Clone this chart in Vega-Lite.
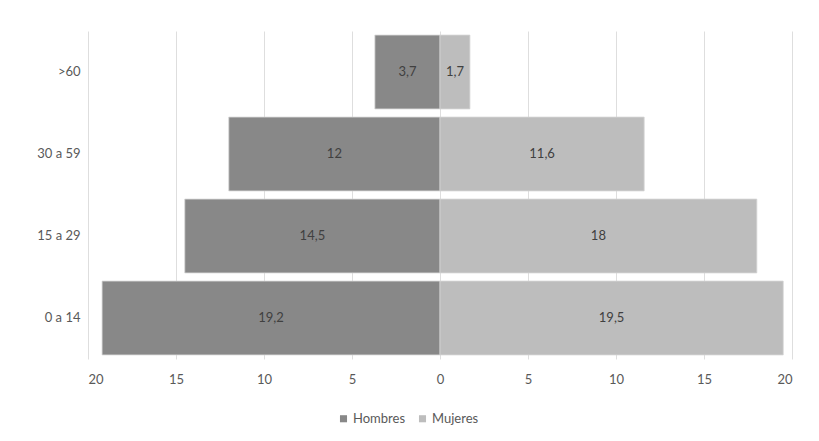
{
  "$schema": "https://vega.github.io/schema/vega-lite/v6.json",
  "width": 704,
  "height": 328,
  "autosize": {"type": "none"},
  "padding": {"left": 88, "top": 31, "right": 27, "bottom": 82},
  "background": "white",
  "config": {
    "view": {"stroke": null},
    "font": "Lato",
    "locale": {
      "number": {"decimal": ",", "thousands": ".", "grouping": [3], "currency": ["", " €"], "minus": ""}
    }
  },
  "data": {
    "values": [
      {"grupo": ">60", "sexo": "Hombres", "pct": -3.7},
      {"grupo": ">60", "sexo": "Mujeres", "pct": 1.7},
      {"grupo": "30 a 59", "sexo": "Hombres", "pct": -12},
      {"grupo": "30 a 59", "sexo": "Mujeres", "pct": 11.6},
      {"grupo": "15 a 29", "sexo": "Hombres", "pct": -14.5},
      {"grupo": "15 a 29", "sexo": "Mujeres", "pct": 18},
      {"grupo": "0 a 14", "sexo": "Hombres", "pct": -19.2},
      {"grupo": "0 a 14", "sexo": "Mujeres", "pct": 19.5}
    ]
  },
  "encoding": {
    "y": {
      "field": "grupo",
      "type": "nominal",
      "sort": [">60", "30 a 59", "15 a 29", "0 a 14"],
      "scale": {"paddingInner": 0.1, "paddingOuter": 0.05},
      "axis": {
        "title": null,
        "domain": false,
        "ticks": false,
        "labelPadding": 8,
        "labelFontSize": 13,
        "labelColor": "#595959"
      }
    }
  },
  "layer": [
    {
      "mark": {"type": "bar", "stroke": "#d4d4d4", "strokeWidth": 0.8},
      "encoding": {
        "x": {
          "field": "pct",
          "type": "quantitative",
          "stack": null,
          "scale": {"domain": [-20, 20], "nice": false},
          "axis": {
            "title": null,
            "values": [-20, -15, -10, -5, 0, 5, 10, 15, 20],
            "labelExpr": "format(abs(datum.value), 'd')",
            "domain": false,
            "ticks": false,
            "grid": true,
            "gridColor": "#dedede",
            "labelPadding": 14,
            "labelFontSize": 13,
            "labelColor": "#595959"
          }
        },
        "color": {
          "field": "sexo",
          "type": "nominal",
          "scale": {"domain": ["Hombres", "Mujeres"], "range": ["#888888", "#bdbdbd"]},
          "legend": {
            "title": null,
            "orient": "none",
            "direction": "horizontal",
            "legendX": 249,
            "legendY": 381,
            "symbolType": "square",
            "symbolSize": 50,
            "symbolStrokeWidth": 0,
            "labelFontSize": 13,
            "labelColor": "#595959",
            "columnPadding": 10,
            "labelOffset": 3
          }
        }
      }
    },
    {
      "mark": {"type": "text", "fontSize": 13, "color": "#404040"},
      "encoding": {
        "x": {
          "field": "pct",
          "type": "quantitative",
          "scale": {"domain": [-40, 40], "nice": false},
          "axis": null
        },
        "text": {"field": "pct", "type": "quantitative", "format": "~g"}
      }
    }
  ],
  "resolve": {"scale": {"x": "independent"}}
}
